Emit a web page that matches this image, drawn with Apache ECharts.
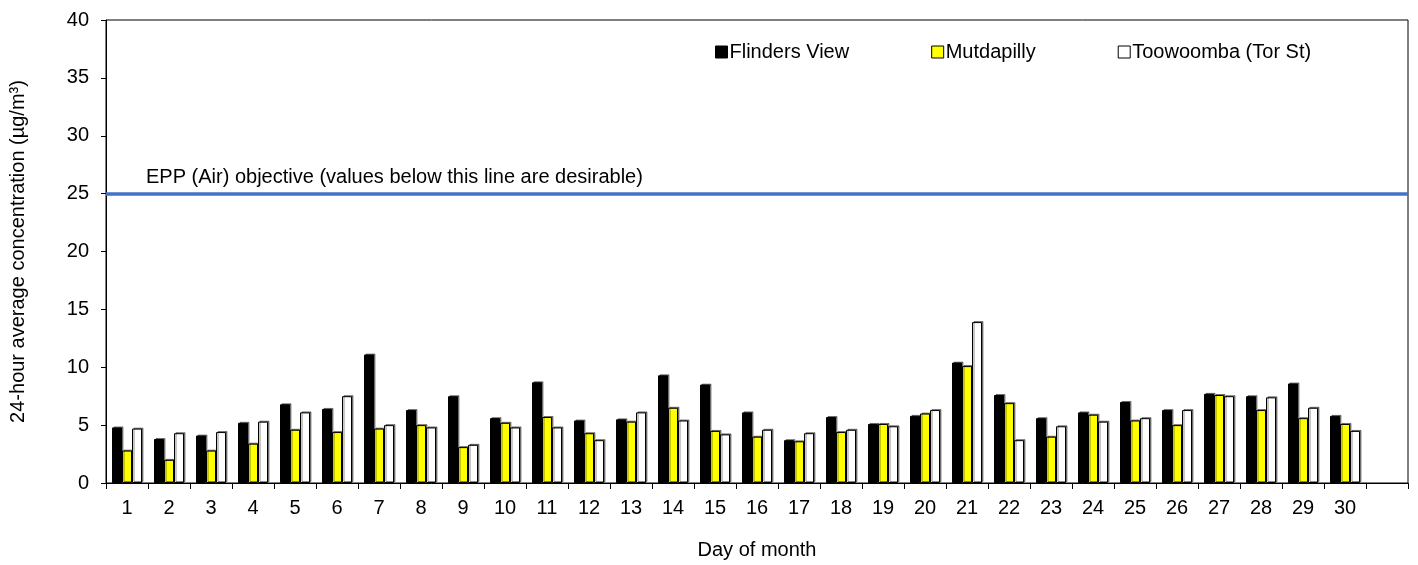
<!DOCTYPE html>
<html>
<head>
<meta charset="utf-8">
<script src="https://cdn.jsdelivr.net/npm/echarts@6/dist/echarts.min.js"></script>
<style>
html,body{margin:0;padding:0;background:#fff;}
#chart{width:1418px;height:565px;}
</style>
</head>
<body>
<div id="chart"></div>
<script>
const days = ['1','2','3','4','5','6','7','8','9','10','11','12','13','14','15','16','17','18','19','20','21','22','23','24','25','26','27','28','29','30',''];
const flindersView = [4.8,3.8,4.1,5.2,6.8,6.4,11.1,6.3,7.5,5.6,8.7,5.4,5.5,9.3,8.5,6.1,3.7,5.7,5.1,5.8,10.4,7.6,5.6,6.1,7.0,6.3,7.7,7.5,8.6,5.8];
const mutdapilly   = [2.8,2.0,2.8,3.4,4.6,4.4,4.7,5.0,3.1,5.2,5.7,4.3,5.3,6.5,4.5,4.0,3.6,4.4,5.1,6.0,10.1,6.9,4.0,5.9,5.4,5.0,7.6,6.3,5.6,5.1];
const toowoomba    = [4.7,4.3,4.4,5.3,6.1,7.5,5.0,4.8,3.3,4.8,4.8,3.7,6.1,5.4,4.2,4.6,4.3,4.6,4.9,6.3,13.9,3.7,4.9,5.3,5.6,6.3,7.5,7.4,6.5,4.5];
const objective = 25;
const yTicks = {min:0, max:40, interval:5};

const FONT = '"Liberation Sans", Arial, sans-serif';
const chart = echarts.init(document.getElementById('chart'), null, {renderer:'canvas'});
const barStyle = (fill) => ({
  color: fill, borderColor:'#000', borderWidth:1,
  shadowColor:'rgba(0,0,0,0.45)', shadowOffsetX:1.5, shadowOffsetY:-1, shadowBlur:0
});
chart.setOption({
  animation:false,
  backgroundColor:'#fff',
  textStyle:{fontFamily:FONT},
  grid:{left:103, right:10, top:20, bottom:71, show:true, borderColor:'#000', borderWidth:1, containLabel:false},
  legend:{
    top:37, left:710, itemGap:82, itemWidth:12, itemHeight:12,
    textStyle:{fontFamily:FONT, fontSize:20, color:'#000', padding:[0,0,0,-3]},
    data:[
      {name:'Flinders View', icon:'rect', itemStyle:{color:'#000', borderColor:'#000', borderWidth:1}},
      {name:'Mutdapilly', icon:'rect', itemStyle:{color:'#ffff00', borderColor:'#000', borderWidth:1}},
      {name:'Toowoomba (Tor St)', icon:'rect', itemStyle:{color:'#fff', borderColor:'#000', borderWidth:1}}
    ]
  },
  xAxis:{
    type:'category', data:days,
    name:'Day of month', nameLocation:'middle', nameGap:57,
    nameTextStyle:{fontFamily:FONT, fontSize:20, color:'#000'},
    axisLine:{lineStyle:{color:'#000', width:1}},
    axisTick:{show:true, interval:0, length:6, lineStyle:{color:'#000'}},
    axisLabel:{interval:0, fontFamily:FONT, fontSize:20, color:'#000', margin:15},
    splitLine:{show:false}
  },
  yAxis:{
    type:'value', min:yTicks.min, max:yTicks.max, interval:yTicks.interval,
    name:'24-hour average concentration (µg/m³)', nameLocation:'middle', nameGap:78,
    nameTextStyle:{fontFamily:FONT, fontSize:20, color:'#000'},
    axisLine:{show:true, lineStyle:{color:'#000', width:1}},
    axisTick:{show:true, length:5, lineStyle:{color:'#000'}},
    axisLabel:{fontFamily:FONT, fontSize:20, color:'#000', margin:17},
    splitLine:{show:false}
  },
  series:[
    {name:'Flinders View', type:'bar', data:flindersView, barWidth:10, barGap:'0%', itemStyle:barStyle('#000'),
     markLine:{
       silent:true, symbol:'none',
       lineStyle:{color:'#4472C4', width:3.5, type:'solid'},
       label:{show:true, position:'insideStartTop', formatter:'EPP (Air) objective (values below this line are desirable)',
              fontFamily:FONT, fontSize:20, color:'#000', distance:[40,6]},
       data:[{yAxis:objective}]
     }},
    {name:'Mutdapilly', type:'bar', data:mutdapilly, barWidth:10, barGap:'0%', itemStyle:barStyle('#ffff00')},
    {name:'Toowoomba (Tor St)', type:'bar', data:toowoomba, barWidth:10, barGap:'0%', itemStyle:barStyle('#fff')}
  ]
});
</script>
</body>
</html>
